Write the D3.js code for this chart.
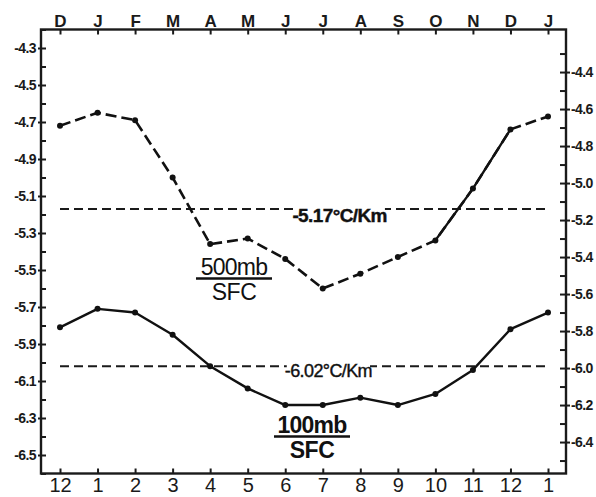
<!DOCTYPE html>
<html><head><meta charset="utf-8">
<script src="https://cdn.jsdelivr.net/npm/d3@7"></script>
<style>body{margin:0;background:#fff}svg{display:block}</style>
</head><body>
<svg id="c" width="596" height="497"></svg>
<script>
const topLabels = ["D","J","F","M","A","M","J","J","A","S","O","N","D","J"];
const bottomLabels = ["12","1","2","3","4","5","6","7","8","9","10","11","12","1"];
const lapse500 = [-4.72,-4.65,-4.69,-5.00,-5.36,-5.33,-5.44,-5.60,-5.52,-5.43,-5.34,-5.06,-4.74,-4.67];
const lapse100 = [-5.81,-5.71,-5.73,-5.85,-6.02,-6.14,-6.23,-6.23,-6.19,-6.23,-6.17,-6.04,-5.82,-5.73];
const mean500 = -5.17, mean100 = -6.02;
const mean500Label = "-5.17°C/Km", mean100Label = "-6.02°C/Km";
const leftTicks = [-4.3,-4.5,-4.7,-4.9,-5.1,-5.3,-5.5,-5.7,-5.9,-6.1,-6.3,-6.5];
const rightTicks = [-4.4,-4.6,-4.8,-5.0,-5.2,-5.4,-5.6,-5.8,-6.0,-6.2,-6.4];

const svg = d3.select("#c");
const L = 41, R = 566, T = 29.5, B = 473.5;
const x = d3.scaleLinear().domain([0,13]).range([60,548]);
const y = d3.scaleLinear().domain([-6.6,-4.2]).range([B,T]);
const yR = d3.scaleLinear().domain([-6.57,-4.17]).range([B,T]);
const font = "'Liberation Sans', Arial, sans-serif";
const fmt = d => d.toFixed(1);

// frame
svg.append("rect").attr("x",L).attr("y",T).attr("width",R-L).attr("height",B-T)
  .attr("fill","none").attr("stroke","#1a1a1a").attr("stroke-width",2.4);

// top axis
const topAx = svg.append("g").attr("transform",`translate(0,${T})`)
  .call(d3.axisTop(x).tickValues(d3.range(14)).tickSize(-5).tickFormat(i=>topLabels[i]).tickPadding(3));
// bottom axis
const botAx = svg.append("g").attr("transform",`translate(0,${B})`)
  .call(d3.axisBottom(x).tickValues(d3.range(14)).tickSize(-5).tickFormat(i=>bottomLabels[i]).tickPadding(4));
// left axis minor + major
const leftMinor = d3.range(-6.6,-4.19,0.1);
svg.append("g").attr("transform",`translate(${L},0)`)
  .call(d3.axisLeft(y).tickValues(leftMinor).tickSize(-5).tickFormat(""));
const lAx = svg.append("g").attr("transform",`translate(${L},0)`)
  .call(d3.axisLeft(y).tickValues(leftTicks).tickSize(3).tickPadding(2).tickFormat(fmt));
// right axis
const rightMinor = d3.range(-6.5,-4.25,0.2);
svg.append("g").attr("transform",`translate(${R},0)`)
  .call(d3.axisRight(yR).tickValues(rightMinor).tickSize(-6).tickFormat(""));
const rAx = svg.append("g").attr("transform",`translate(${R},0)`)
  .call(d3.axisRight(yR).tickValues(rightTicks).tickSize(4).tickPadding(1).tickFormat(fmt));
rAx.selectAll(".tick line").attr("x1",-6);

svg.selectAll(".domain").remove();
svg.selectAll(".tick line").attr("stroke","#1a1a1a").attr("stroke-width",2);
svg.selectAll(".tick text").attr("fill","#1a1a1a").attr("font-family",font);
topAx.selectAll("text").attr("font-size",17).attr("font-weight","bold");
botAx.selectAll("text").attr("font-size",20);
[lAx, rAx].forEach(a => a.selectAll("text").attr("font-size",14).attr("font-weight","bold").attr("letter-spacing",-0.6));

// mean lines
function meanLine(v, label, lx, dy, size, weight){
  svg.append("line").attr("x1",x(0)).attr("x2",x(13)).attr("y1",y(v)).attr("y2",y(v))
    .attr("stroke","#1a1a1a").attr("stroke-width",2).attr("stroke-dasharray","9,5");
  const t = svg.append("text").attr("x",lx).attr("y",y(v)+dy).attr("text-anchor","middle")
    .attr("font-family",font).attr("font-size",size).attr("font-weight",weight)
    .attr("letter-spacing",-0.6).attr("fill","#111").attr("stroke","#111").attr("stroke-width",0.4)
    .text(label);
  const bb = t.node().getBBox();
  svg.insert("rect", () => t.node()).attr("x",bb.x+2).attr("y",y(v)-3).attr("width",bb.width-4).attr("height",6).attr("fill","#fff");
}
meanLine(mean500, mean500Label, x(7.45), 13, 19, "bold");
meanLine(mean100, mean100Label, x(7.15), 11, 18, "normal");

// series
const line = d3.line().x((d,i)=>x(i)).y(d=>y(d));
svg.append("path").datum(lapse100).attr("d",line).attr("fill","none")
  .attr("stroke","#111").attr("stroke-width",2.4).attr("stroke-linejoin","round");
svg.append("path").datum(lapse500).attr("d",line).attr("fill","none")
  .attr("stroke","#111").attr("stroke-width",2.6).attr("stroke-dasharray","11,5");
const solidPart = d3.line().defined((d,i)=>i>=10 && i<=12).x((d,i)=>x(i)).y(d=>y(d));
svg.append("path").datum(lapse500).attr("d",solidPart).attr("fill","none")
  .attr("stroke","#111").attr("stroke-width",2.4);
[lapse500, lapse100].forEach(s=>{
  svg.append("g").selectAll("circle").data(s).join("circle")
    .attr("cx",(d,i)=>x(i)).attr("cy",d=>y(d)).attr("r",3).attr("fill","#111");
});

// series labels
function fracLabel(cx, topY, numer, weight){
  svg.append("text").attr("x",cx).attr("y",topY).attr("text-anchor","middle")
    .attr("font-family",font).attr("font-size",23).attr("font-weight",weight)
    .attr("letter-spacing",-0.8).attr("fill","#111").text(numer);
  svg.append("line").attr("x1",cx-38).attr("x2",cx+38).attr("y1",topY+3.5).attr("y2",topY+3.5)
    .attr("stroke","#111").attr("stroke-width",2.4);
  svg.append("text").attr("x",cx).attr("y",topY+25).attr("text-anchor","middle")
    .attr("font-family",font).attr("font-size",23).attr("font-weight",weight)
    .attr("letter-spacing",-0.5).attr("fill","#111").text("SFC");
}
fracLabel(234, 275, "500mb", "normal");
fracLabel(312, 433, "100mb", "bold");
</script>
</body></html>
